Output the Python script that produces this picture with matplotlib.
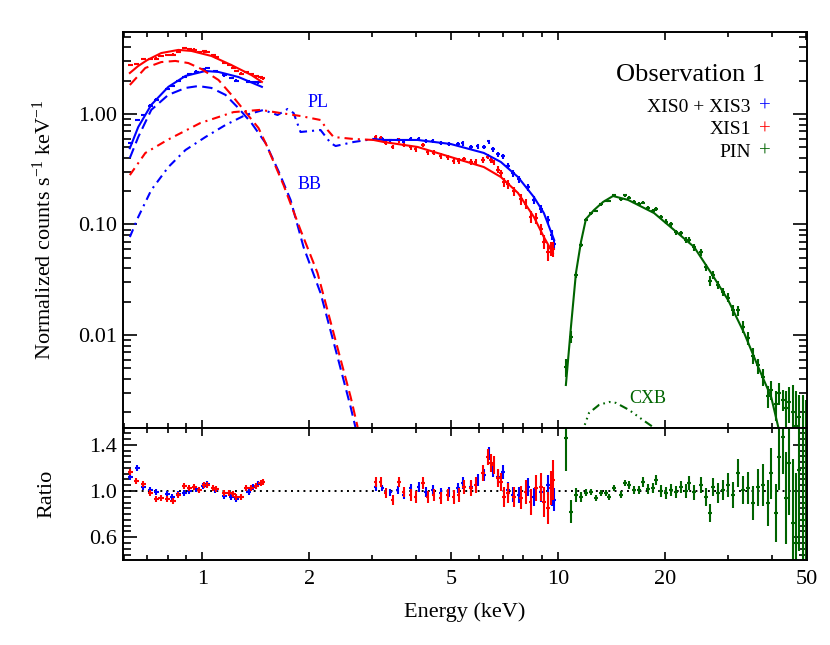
import numpy as np
import matplotlib
matplotlib.use("Agg")
import matplotlib.pyplot as plt
from matplotlib.ticker import FixedLocator, NullFormatter, LogLocator

plt.rcParams["font.family"] = ["Liberation Serif", "DejaVu Serif"]
plt.rcParams["mathtext.fontset"] = "custom"
plt.rcParams["mathtext.rm"] = "Liberation Serif"
plt.rcParams["mathtext.it"] = "Liberation Serif:italic"

BLUE = "#0000ff"
RED = "#ff0000"
GREEN = "#006400"

# ---- model curves (energy keV, normalized counts s^-1 keV^-1) ----
red_model_lo_e = [0.625, 0.66, 0.70, 0.766, 0.856, 0.931, 1.06, 1.207, 1.374, 1.47]
red_model_lo_v = [2.35, 2.72, 3.08, 3.56, 3.80, 3.72, 3.35, 2.77, 2.25, 1.95]
red_model_hi_e = [3.03, 3.235, 4.03, 4.995, 6.19, 6.91, 7.72, 8.56, 9.13, 9.68]
red_model_hi_v = [0.582, 0.558, 0.503, 0.408, 0.331, 0.269, 0.193, 0.117, 0.077, 0.0552]

blue_model_lo_e = [0.625, 0.66, 0.718, 0.802, 0.896, 1.02, 1.11, 1.263, 1.47]
blue_model_lo_v = [0.49, 0.763, 1.21, 1.76, 2.21, 2.45, 2.40, 2.16, 1.76]
blue_model_hi_e = [3.03, 3.235, 4.03, 4.995, 6.19, 6.91, 7.72, 8.56, 9.13, 9.76]
blue_model_hi_v = [0.594, 0.582, 0.582, 0.535, 0.444, 0.368, 0.269, 0.177, 0.127, 0.0724]

red_bb_e = [0.625, 0.691, 0.766, 0.839, 0.913, 0.994, 1.11, 1.207, 1.322, 1.438, 1.514,
            1.691, 1.888, 2.108, 2.339, 2.612, 2.733]
red_bb_v = [1.83, 2.61, 2.95, 3.02, 2.89, 2.55, 2.03, 1.49, 1.04, 0.747, 0.524,
            0.228, 0.0892, 0.0364, 0.0104, 0.00275, 0.00147]
blue_bb_e = [0.625, 0.66, 0.718, 0.802, 0.896, 0.974, 1.06, 1.161, 1.263, 1.374, 1.505,
             1.64, 1.77, 1.925, 2.149, 2.40, 2.612, 2.698]
blue_bb_v = [0.40, 0.619, 1.09, 1.49, 1.72, 1.79, 1.72, 1.49, 1.13, 0.829, 0.546,
             0.30, 0.167, 0.0626, 0.024, 0.00632, 0.00223, 0.00144]

red_pl_e = [0.625, 0.691, 0.797, 0.987, 1.223, 1.457, 1.658, 1.888, 2.149, 2.249, 2.339, 2.664, 3.03]
red_pl_v = [0.28, 0.444, 0.582, 0.829, 1.04, 1.09, 1.02, 0.959, 0.882, 0.716, 0.619, 0.594, 0.582]
blue_pl_e = [0.625, 0.66, 0.718, 0.802, 0.896, 1.02, 1.161, 1.322, 1.485, 1.627, 1.736, 1.805,
             1.888, 2.149, 2.295, 2.37, 2.664, 3.03]
blue_pl_v = [0.077, 0.117, 0.205, 0.331, 0.472, 0.619, 0.795, 0.979, 1.087, 0.979, 1.11, 1.02,
             0.687, 0.716, 0.546, 0.513, 0.558, 0.594]

pin_model_e = [10.53, 10.88, 11.24, 11.61, 11.99, 12.63, 13.4, 14.29, 15.75, 18.64, 21.22,
               24.16, 26.98, 30.12, 33.42, 36.6, 39.8, 41.67]
pin_model_v = [0.00353, 0.0118, 0.0364, 0.0695, 0.112, 0.135, 0.160, 0.181, 0.167, 0.127, 0.0892,
               0.0626, 0.0364, 0.0207, 0.0104, 0.00513, 0.00275, 0.00147]

cxb_e = [11.6, 11.84, 12.23, 13.05, 13.92, 14.57, 15.85, 17.35, 18.52, 19.2]
cxb_v = [0.0012, 0.00147, 0.00197, 0.00233, 0.00248, 0.00243, 0.00210, 0.00170, 0.00147, 0.0013]

# ---- XIS data ----
red_lo_e = [0.627, 0.652, 0.682, 0.714, 0.742, 0.766, 0.797, 0.828, 0.856, 0.890, 0.919, 0.949,
            0.981, 1.013, 1.033, 1.074, 1.095, 1.153, 1.191, 1.223, 1.247, 1.288, 1.330, 1.374,
            1.419, 1.457, 1.476]
red_lo_flux = [2.77, 2.82, 3.13, 3.15, 3.17, 3.35, 3.43, 3.44, 3.67, 3.96, 3.86, 3.83, 3.63, 3.68,
               3.63, 3.39, 3.25, 2.90, 2.77, 2.63, 2.46, 2.32, 2.41, 2.31, 2.19, 2.14, 2.10]
red_lo_ratio = [1.163, 1.086, 1.060, 0.983, 0.931, 0.940, 0.931, 0.914, 0.966, 1.043, 1.026, 1.034,
                1.009, 1.052, 1.052, 1.026, 1.017, 0.983, 0.983, 0.974, 0.948, 0.948, 1.026, 1.026,
                1.043, 1.069, 1.077]

blue_lo_e = [0.627, 0.656, 0.682, 0.714, 0.742, 0.797, 0.823, 0.856, 0.890, 0.919, 0.962, 1.006,
             1.033, 1.088, 1.153, 1.207, 1.247, 1.348, 1.392, 1.438]
blue_lo_flux = [0.549, 0.887, 0.982, 1.19, 1.35, 1.69, 1.80, 2.00, 2.15, 2.30, 2.42, 2.54, 2.60,
                2.44, 2.23, 2.12, 2.00, 1.96, 1.96, 1.93]
blue_lo_ratio = [1.120, 1.198, 1.034, 1.009, 0.991, 0.974, 0.948, 0.974, 0.983, 1.000, 1.017, 1.043,
                 1.060, 1.009, 0.957, 0.948, 0.931, 0.991, 1.034, 1.060]

red_hi_e = [3.07, 3.17, 3.28, 3.43, 3.57, 3.68, 3.85, 3.98, 4.17, 4.30, 4.47, 4.68, 4.90, 5.09,
            5.26, 5.44, 5.69, 5.87, 6.15, 6.35, 6.48, 6.60, 6.78, 6.91, 7.05, 7.23, 7.52, 7.87,
            8.12, 8.39, 8.67, 8.96, 9.13, 9.37, 9.56, 9.68]
red_hi_flux = [0.622, 0.610, 0.547, 0.503, 0.576, 0.523, 0.498, 0.480, 0.524, 0.453, 0.447, 0.415,
               0.404, 0.379, 0.375, 0.388, 0.369, 0.367, 0.385, 0.411, 0.382, 0.365, 0.314, 0.290,
               0.241, 0.232, 0.199, 0.169, 0.154, 0.118, 0.114, 0.091, 0.070, 0.056, 0.061, 0.060]
red_hi_ratio = [1.077, 1.077, 0.983, 0.923, 1.077, 0.991, 0.966, 0.948, 1.069, 0.948, 0.966, 0.940,
                0.966, 0.948, 0.966, 1.034, 1.026, 1.052, 1.155, 1.292, 1.241, 1.224, 1.112, 1.077,
                0.948, 0.983, 0.948, 0.940, 0.991, 0.905, 1.026, 1.034, 0.905, 0.854, 1.026, 1.095]
red_hi_err = [0.04, 0.04, 0.04, 0.045, 0.045, 0.045, 0.05, 0.05, 0.05, 0.05, 0.055, 0.055, 0.055,
              0.06, 0.06, 0.06, 0.065, 0.065, 0.07, 0.07, 0.075, 0.075, 0.08, 0.08, 0.085, 0.09,
              0.09, 0.1, 0.1, 0.11, 0.11, 0.12, 0.13, 0.14, 0.15, 0.17]

blue_hi_e = [3.07, 3.21, 3.38, 3.54, 3.68, 3.85, 4.06, 4.25, 4.44, 4.68, 4.93, 5.23, 5.40, 5.69,
             5.95, 6.19, 6.39, 6.56, 6.78, 7.00, 7.23, 7.47, 7.77, 8.23, 8.56, 8.96, 9.37, 9.60, 9.76]
blue_hi_flux = [0.610, 0.598, 0.577, 0.587, 0.562, 0.597, 0.600, 0.567, 0.570, 0.543, 0.533, 0.534,
                0.543, 0.501, 0.509, 0.505, 0.564, 0.482, 0.431, 0.416, 0.338, 0.290, 0.256, 0.217,
                0.168, 0.139, 0.110, 0.080, 0.066]
blue_hi_ratio = [1.034, 1.026, 0.991, 1.009, 0.966, 1.026, 1.034, 0.991, 1.009, 0.983, 0.991, 1.026,
                 1.069, 1.034, 1.095, 1.138, 1.327, 1.181, 1.120, 1.163, 1.009, 0.966, 0.966, 1.034,
                 0.948, 0.991, 1.052, 0.966, 0.923]
blue_hi_err = [0.03, 0.03, 0.03, 0.035, 0.035, 0.035, 0.04, 0.04, 0.04, 0.04, 0.045, 0.045, 0.05,
               0.05, 0.05, 0.055, 0.055, 0.06, 0.06, 0.06, 0.065, 0.065, 0.07, 0.075, 0.08, 0.085,
               0.09, 0.1, 0.1]

# ---- PIN data ----
pin_e = [10.53, 10.88, 11.24, 11.61, 11.99, 12.39, 12.80, 13.22, 13.65, 13.92, 14.38, 15.05, 15.45,
         15.85, 16.37, 16.91, 17.35, 17.93, 18.52, 18.88, 19.51, 20.15, 20.81, 21.50, 22.21, 22.94,
         23.39, 24.16, 25.28, 26.12, 26.81, 27.33, 28.23, 29.16, 30.12, 31.12, 32.14, 33.20, 34.29,
         35.42, 36.6, 37.8, 39.04, 39.8, 41.1, 41.94, 43.04, 43.88, 44.75, 45.92, 46.82, 47.74,
         48.98, 49.8]
pin_flux = [0.00514, 0.00966, 0.0352, 0.0659, 0.110, 0.126, 0.133, 0.152, 0.163, 0.163, 0.185, 0.170,
            0.183, 0.175, 0.161, 0.154, 0.158, 0.142, 0.132, 0.137, 0.117, 0.106, 0.100, 0.085, 0.083,
            0.073, 0.073, 0.062, 0.056, 0.041, 0.031, 0.035, 0.0285, 0.0247, 0.0218, 0.0169, 0.0167,
            0.0119, 0.0094, 0.0065, 0.0053, 0.0042, 0.0028, 0.0032, 0.0024, 0.0030, 0.0026, 0.0022,
            0.0025, 0.0020, 0.0015, 0.0018, 0.0014, 0.0013]
pin_ratio = [1.456, 0.819, 0.966, 0.948, 0.983, 0.991, 0.940, 0.983, 0.983, 0.948, 1.026, 0.966, 1.069,
             1.052, 1.009, 1.009, 1.077, 1.017, 1.026, 1.095, 1.0, 0.983, 1.009, 0.991, 1.034, 1.0,
             1.069, 0.991, 1.052, 0.948, 0.810, 1.034, 0.983, 1.009, 1.052, 0.966, 1.155, 1.009,
             1.026, 0.897, 1.034, 1.052, 0.897, 1.155, 0.810, 1.292, 1.465, 0.940, 1.241, 0.725,
             0.553, 1.181, 0.75, 0.9]
pin_err = [0.28, 0.10, 0.06, 0.04, 0.03, 0.025, 0.025, 0.025, 0.025, 0.025, 0.03, 0.03, 0.03, 0.035,
           0.035, 0.035, 0.04, 0.04, 0.045, 0.045, 0.05, 0.05, 0.05, 0.055, 0.055, 0.06, 0.06, 0.065,
           0.07, 0.075, 0.08, 0.08, 0.085, 0.09, 0.10, 0.11, 0.12, 0.12, 0.14, 0.15, 0.16, 0.18, 0.20,
           0.22, 0.25, 0.28, 0.32, 0.40, 0.45, 0.55, 0.6, 0.7, 0.8, 0.9]

xis_lo_err = 0.025
xerr_frac = {"lo": 0.018, "hi": 0.011, "pin": 0.014}

fig = plt.figure(figsize=(8.3, 6.45), dpi=100)
ax = fig.add_axes([0.1476, 0.3364, 0.8247, 0.6140])
axr = fig.add_axes([0.1476, 0.1318, 0.8247, 0.2046])


def draw_data(e, flux, ratio, rerr, frac, color):
    e = np.array(e)
    flux = np.array(flux)
    ratio = np.array(ratio)
    rerr = np.broadcast_to(np.array(rerr, dtype=float), e.shape)
    ferr = flux * rerr / ratio
    ferr_lo = np.minimum(ferr, flux * 0.999)
    xe = e * frac
    ax.errorbar(e, flux, yerr=[ferr_lo, ferr], xerr=xe, fmt="none", ecolor=color,
                elinewidth=1.5, capsize=0)
    axr.errorbar(e, ratio, yerr=rerr, xerr=xe, fmt="none", ecolor=color,
                 elinewidth=1.5, capsize=0)


dash = (0, (5.0, 2.6))
dashdot = (0, (4.0, 2.4, 1.0, 2.4))
dashdotdot = (0, (4.0, 2.0, 0.8, 2.0, 0.8, 2.0, 0.8, 2.0))

draw_data(blue_lo_e, blue_lo_flux, blue_lo_ratio, xis_lo_err, xerr_frac["lo"], BLUE)
draw_data(red_lo_e, red_lo_flux, red_lo_ratio, xis_lo_err, xerr_frac["lo"], RED)
draw_data(blue_hi_e, blue_hi_flux, blue_hi_ratio, blue_hi_err, xerr_frac["hi"], BLUE)
draw_data(red_hi_e, red_hi_flux, red_hi_ratio, red_hi_err, xerr_frac["hi"], RED)
draw_data(pin_e, pin_flux, pin_ratio, pin_err, xerr_frac["pin"], GREEN)

lw = 1.5
ax.plot(blue_model_lo_e, blue_model_lo_v, color=BLUE, lw=lw)
ax.plot(blue_model_hi_e, blue_model_hi_v, color=BLUE, lw=lw)
ax.plot(red_model_lo_e, red_model_lo_v, color=RED, lw=lw)
ax.plot(red_model_hi_e, red_model_hi_v, color=RED, lw=lw)
ax.plot(blue_bb_e, blue_bb_v, color=BLUE, lw=lw, ls=dash)
ax.plot(red_bb_e, red_bb_v, color=RED, lw=lw, ls=dash)
ax.plot(blue_pl_e, blue_pl_v, color=BLUE, lw=lw, ls=dashdot)
ax.plot(red_pl_e, red_pl_v, color=RED, lw=lw, ls=dashdot)
ax.plot(pin_model_e, pin_model_v, color=GREEN, lw=lw)
ax.plot(cxb_e, cxb_v, color=GREEN, lw=lw, ls=dashdotdot)

axr.axhline(1.0, color="black", lw=1.4, ls=(0, (1, 2.2)), zorder=0)

# axes setup
for a in (ax, axr):
    a.set_xscale("log")
    a.set_xlim(0.596, 50.2)
    a.xaxis.set_major_locator(FixedLocator([1, 2, 5, 10, 20, 50]))
    a.xaxis.set_minor_locator(FixedLocator([0.6, 0.7, 0.8, 0.9, 3, 4, 6, 7, 8, 9, 30, 40]))
    a.xaxis.set_minor_formatter(NullFormatter())
    a.tick_params(which="both", direction="in", top=True, right=True, width=1.2,
                  labelsize=16, colors="black")
    a.tick_params(axis="x", which="major", length=6)
    a.tick_params(axis="x", which="minor", length=3.5)
    a.tick_params(axis="y", which="major", length=10)
    a.tick_params(axis="y", which="minor", length=5.5)
    a.tick_params(axis="y", pad=4)
    a.tick_params(axis="x", pad=7)
    for s in a.spines.values():
        s.set_linewidth(1.4)

ax.set_yscale("log")
ax.set_ylim(0.00144, 5.52)
ax.yaxis.set_major_locator(FixedLocator([0.01, 0.1, 1.0]))
ax.set_yticklabels(["0.01", "0.10", "1.00"])
ax.yaxis.set_minor_locator(LogLocator(base=10, subs=np.arange(2, 10)))
ax.yaxis.set_minor_formatter(NullFormatter())
ax.tick_params(axis="x", labelbottom=False)
ax.set_ylabel("Normalized counts s$^{-1}$ keV$^{-1}$", fontsize=16)
ax.yaxis.set_label_coords(-0.097, 0.5)

axr.set_ylim(0.403, 1.545)
axr.yaxis.set_major_locator(FixedLocator([0.6, 1.0, 1.4]))
axr.set_yticklabels(["0.6", "1.0", "1.4"])
axr.yaxis.set_minor_locator(FixedLocator(np.arange(0.45, 1.55, 0.05)))
axr.set_xticklabels(["1", "2", "5", "10", "20", "50"])
axr.set_ylabel("Ratio", fontsize=16)
axr.yaxis.set_label_coords(-0.097, 0.5)
axr.set_xlabel("Energy (keV)", fontsize=16)
axr.xaxis.set_label_coords(0.5, -0.32)

# annotations
ax.text(2.11, 1.26, "PL", color=BLUE, fontsize=13, ha="center", va="center")
ax.text(2.006, 0.228, "BB", color=BLUE, fontsize=13, ha="center", va="center")
ax.text(17.9, 0.00269, "CXB", color=GREEN, fontsize=13, ha="center", va="center")

ax.text(0.939, 0.891, "Observation 1", transform=ax.transAxes, fontsize=19,
        ha="right", va="center")
legend_rows = [("XIS0 + XIS3", BLUE), ("XIS1", RED), ("PIN", GREEN)]
for i, (name, col) in enumerate(legend_rows):
    yy = 0.81 - i * 0.057
    ax.text(0.918, yy, name, transform=ax.transAxes, fontsize=14, ha="right", va="center")
    ax.text(0.938, yy, "+", transform=ax.transAxes, fontsize=15, ha="center", va="center",
            color=col)

fig.savefig("out.png", dpi=100)
